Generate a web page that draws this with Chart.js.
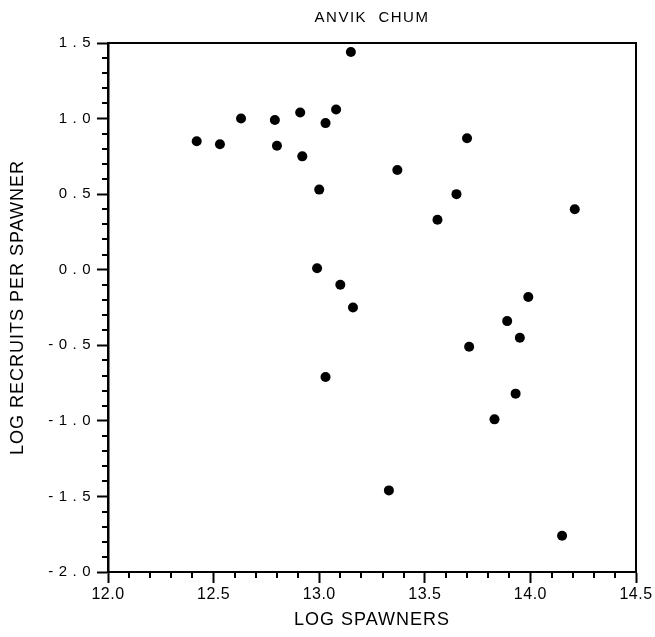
<!DOCTYPE html>
<html>
<head>
<meta charset="utf-8">
<script src="https://cdn.jsdelivr.net/npm/chart.js@4/dist/chart.umd.min.js"></script>
<style>
  html, body { margin: 0; padding: 0; background: #fff; }
</style>
</head>
<body>
<canvas id="chart" width="655" height="637"></canvas>
<script>
// values
const spawners = [12.42, 12.53, 12.63, 12.79, 12.80, 12.91, 12.92, 13.03, 13.00, 12.99,
                  13.15, 13.08, 13.70, 13.37, 13.65, 13.56, 14.21, 13.10, 13.16, 13.99,
                  13.89, 13.95, 13.71, 13.93, 13.83, 13.33, 14.15, 13.03];
const recruits = [0.85, 0.83, 1.00, 0.99, 0.82, 1.04, 0.75, 0.97, 0.53, 0.01,
                  1.44, 1.06, 0.87, 0.66, 0.50, 0.33, 0.40, -0.10, -0.25, -0.18,
                  -0.34, -0.45, -0.51, -0.82, -0.99, -1.46, -1.76, -0.71];
const xRange = [12.0, 14.5];
const yRange = [-2.0, 1.5];
const chartTitle = 'ANVIK  CHUM';
const xTitle = 'LOG SPAWNERS';
const yTitle = 'LOG RECRUITS PER SPAWNER';

Chart.defaults.font.family = "'Liberation Sans', Arial, Helvetica, sans-serif";
Chart.defaults.color = '#000';

const isMajor = v => Math.abs(v * 2 - Math.round(v * 2)) < 1e-6;
const fmt = v => (Math.abs(v) < 1e-9 ? 0 : v).toFixed(1);

// letter spacing per scale (labels / title)
const spacing = {
  x: { labels: '0.5px', title: '1px' },
  y: { labels: '5.5px', title: '1px' },
  x2: { labels: '0px', title: '1.5px' },
  y2: { labels: '0px', title: '0px' }
};

const spacingPlugin = {
  id: 'spacing',
  beforeDraw(chart) {
    Object.values(chart.scales).forEach(s => {
      if (s._spaced) return;
      s._spaced = true;
      const ls = spacing[s.id];
      const drawLabels = s.drawLabels;
      const drawTitle = s.drawTitle;
      s.drawLabels = function (area) {
        this.ctx.save();
        this.ctx.letterSpacing = ls.labels;
        drawLabels.call(this, area);
        this.ctx.restore();
      };
      s.drawTitle = function (area) {
        this.ctx.save();
        this.ctx.letterSpacing = ls.title;
        drawTitle.call(this, area);
        this.ctx.restore();
      };
    });
  }
};

// short ticks for the 0.1 steps
const minorTicks = {
  id: 'minorTicks',
  afterDraw(chart) {
    const ctx = chart.ctx;
    const xs = chart.scales.x, ys = chart.scales.y;
    ctx.save();
    ctx.strokeStyle = '#000';
    ctx.lineWidth = 2;
    ctx.beginPath();
    xs.ticks.forEach(t => {
      if (isMajor(t.value)) return;
      const px = Math.round(xs.getPixelForValue(t.value));
      ctx.moveTo(px, xs.top);
      ctx.lineTo(px, xs.top + 6);
    });
    ys.ticks.forEach(t => {
      if (isMajor(t.value)) return;
      const py = Math.round(ys.getPixelForValue(t.value));
      ctx.moveTo(ys.right, py);
      ctx.lineTo(ys.right - 6, py);
    });
    ctx.stroke();
    ctx.restore();
  }
};

const tickColor = ctx => (ctx.tick && isMajor(ctx.tick.value) ? '#000' : 'rgba(0,0,0,0)');

new Chart(document.getElementById('chart'), {
  type: 'scatter',
  data: {
    datasets: [{
      data: spawners.map((x, i) => ({ x, y: recruits[i] })),
      backgroundColor: '#000',
      borderWidth: 0,
      pointRadius: 5,
      xAxisID: 'x',
      yAxisID: 'y'
    }]
  },
  options: {
    responsive: false,
    animation: false,
    layout: { padding: 0 },
    plugins: {
      legend: { display: false },
      tooltip: { enabled: false }
    },
    scales: {
      x: {
        type: 'linear',
        position: 'bottom',
        min: xRange[0],
        max: xRange[1],
        ticks: {
          stepSize: 0.1,
          autoSkip: false,
          maxRotation: 0,
          padding: 2,
          font: { size: 16 },
          callback: v => (isMajor(v) ? fmt(v) : '')
        },
        grid: { drawOnChartArea: false, tickLength: 11, tickWidth: 2, tickColor },
        border: { color: '#000', width: 2 },
        title: { display: true, text: xTitle, font: { size: 18 }, padding: { top: 0, bottom: 6 } },
        afterFit: s => { s.height = 65; }
      },
      y: {
        type: 'linear',
        position: 'left',
        min: yRange[0],
        max: yRange[1],
        ticks: {
          stepSize: 0.1,
          autoSkip: false,
          padding: 1,
          font: { size: 15 },
          callback: v => (isMajor(v) ? fmt(v) : '')
        },
        grid: { drawOnChartArea: false, tickLength: 11, tickWidth: 2, tickColor },
        border: { color: '#000', width: 2.5 },
        title: { display: true, text: yTitle, font: { size: 18 }, padding: { top: 7, bottom: 0 } },
        afterFit: s => { s.width = 108; }
      },
      x2: {
        type: 'linear',
        position: 'top',
        min: xRange[0],
        max: xRange[1],
        ticks: { display: false },
        grid: { display: false },
        border: { color: '#000', width: 2 },
        title: { display: true, text: chartTitle, font: { size: 15 }, padding: { top: 9, bottom: 0 } },
        afterFit: s => { s.height = 43; }
      },
      y2: {
        type: 'linear',
        position: 'right',
        min: yRange[0],
        max: yRange[1],
        ticks: { display: false },
        grid: { display: false },
        border: { color: '#000', width: 2 },
        afterFit: s => { s.width = 19; }
      }
    }
  },
  plugins: [spacingPlugin, minorTicks]
});
</script>
</body>
</html>
